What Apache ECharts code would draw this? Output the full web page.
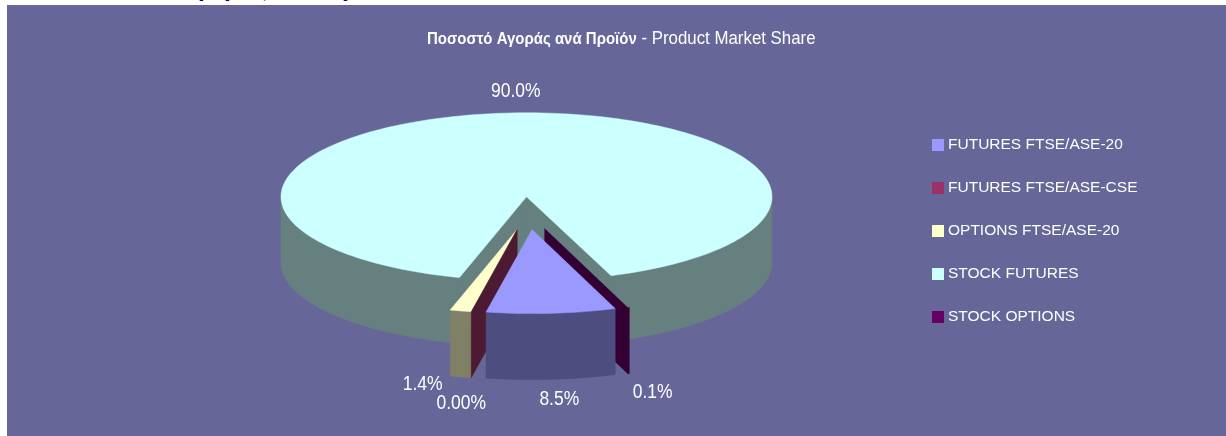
<!DOCTYPE html>
<html><head><meta charset="utf-8">
<style>html,body{margin:0;padding:0;background:#fff}#c{width:1226px;height:436px}</style>
<script src="https://cdn.jsdelivr.net/npm/echarts@6/dist/echarts.min.js"></script>
</head><body><div id="c"></div>
<script>
const categories = ['FUTURES FTSE/ASE-20','FUTURES FTSE/ASE-CSE','OPTIONS FTSE/ASE-20','STOCK FUTURES','STOCK OPTIONS'];
const shares = [8.5, 0.0, 1.4, 90.0, 0.1];
const shareLabels = ['8.5%','0.00%','1.4%','90.0%','0.1%'];
const topColors = ['#9999FF','#993366','#FFFFCC','#CCFFFF','#660066'];
const sideColors = ['#4D4D80','#4D1A33','#808066','#668080','#330033'];
const titleBold = 'Ποσοστό Αγοράς ανά Προϊόν';
const titleRest = ' - Product Market Share';

// 3-D projection of the exploded pie
const PIE = {cx:528.3, cy:213.2, rx:245.5, ry:84, depth:66, explode:48, firstAngle:160.2};
const labelNudge = [[8,20],[-10,26],[-38,7],[-1.5,-22],[24,19]];
const paintOrder = [5,4,3,1,2]; // z of each slice: far to near

const total = shares.reduce((a,b)=>a+b,0);
const rad = d => d*Math.PI/180;
const slices = []; { let a = PIE.firstAngle;
  shares.forEach(v => { const e = a + v/total*360; slices.push({a0:a,a1:e,mid:(a+e)/2}); a = e; }); }
function apexOf(i){
  // an empty slice travels with the slice that follows it
  const m = shares[i] === 0 ? slices[(i+1)%slices.length].mid : slices[i].mid;
  return [PIE.cx + PIE.explode*Math.sin(rad(m)), PIE.cy - PIE.explode*(PIE.ry/PIE.rx)*Math.cos(rad(m))];
}
function rim(ap,deg){ return [ap[0]+PIE.rx*Math.sin(rad(deg)), ap[1]-PIE.ry*Math.cos(rad(deg))]; }
const down = p => [p[0], p[1]+PIE.depth];
function arcPts(ap,a0,a1){ const n=Math.max(2,Math.ceil(Math.abs(a1-a0)/1.5)); const r=[];
  for(let k=0;k<=n;k++) r.push(rim(ap,a0+(a1-a0)*k/n)); return r; }
const poly = (pts,fill) => ({type:'polygon',shape:{points:pts},style:{fill,stroke:fill,lineWidth:0.5}});

function wallsFor(i){
  const s=slices[i], ap=apexOf(i), side=sideColors[i], out=[];
  // outer wall: only the part of the rim on the near half (90..270 deg)
  for(const [lo,hi] of [[90,270],[450,630]]){
    const a=Math.max(s.a0,lo), b=Math.min(s.a1,hi);
    if(b>a){ const top=arcPts(ap,a,b); out.push(poly(top.concat(top.map(down).reverse()),side)); }
  }
  // radial cut faces that look towards the viewer
  const face = deg => { const p=rim(ap,deg); return poly([ap,p,down(p),down(ap)],side); };
  if(Math.sin(rad(s.a0))<0) out.push(face(s.a0));
  if(Math.sin(rad(s.a1))>0) out.push(face(s.a1));
  return out;
}
function render(params){
  const i=params.seriesIndex, s=slices[i], ap=apexOf(i);
  const kids=wallsFor(i);
  if(shares[i]>0.2) kids.push(poly([ap].concat(arcPts(ap,s.a0,s.a1)),topColors[i]));
  const m=rim(ap,s.mid), low=Math.cos(rad(s.mid))<0;
  kids.push({type:'text',z2:50,scaleY:1.18,x:m[0]+labelNudge[i][0],y:m[1]+(low?PIE.depth:0)+labelNudge[i][1],
    style:{text:shareLabels[i],fill:'#FFFFFF',font:'17.5px "Liberation Sans", Arial, sans-serif',align:'center',verticalAlign:'middle'}});
  return {type:'group',children:kids};
}
const chart = echarts.init(document.getElementById('c'),null,{renderer:'canvas'});
chart.setOption({
  animation:false,
  backgroundColor:'#FFFFFF',
  graphic:[
    {type:'rect',z:-10,left:7,top:5,shape:{width:1219,height:431},style:{fill:'#666699'},silent:true},
    {type:'text',z:-12,x:65,y:2,silent:true,style:{text:titleBold+titleRest,fill:'#000080',
      font:'bold 24.5px "Liberation Sans", Arial, sans-serif',verticalAlign:'bottom'}},
    {type:'text',z:10,x:427,y:39,scaleX:0.882,silent:true,style:{
      text:'{b|'+titleBold+'}{r|'+titleRest+'}',verticalAlign:'middle',
      rich:{b:{fontFamily:'"Liberation Sans"',fontWeight:'bold',fontSize:17,fill:'#fff'},
            r:{fontFamily:'"Liberation Sans"',fontWeight:'normal',fontSize:19.1,fill:'#fff'}}}}
  ],
  legend:{orient:'vertical',left:927,top:131,itemWidth:12,itemHeight:12,itemGap:25,icon:'rect',
    data:categories,selectedMode:false,
    textStyle:{color:'#fff',fontFamily:'"Liberation Sans"',fontSize:15.5,padding:[0,0,0,-1],lineHeight:18}},
  tooltip:{show:false},
  series:categories.map((name,i)=>({type:'custom',name,coordinateSystem:'none',z:paintOrder[i],
    itemStyle:{color:topColors[i]},data:[[shares[i]]],renderItem:render,silent:true}))
});
</script></body></html>
